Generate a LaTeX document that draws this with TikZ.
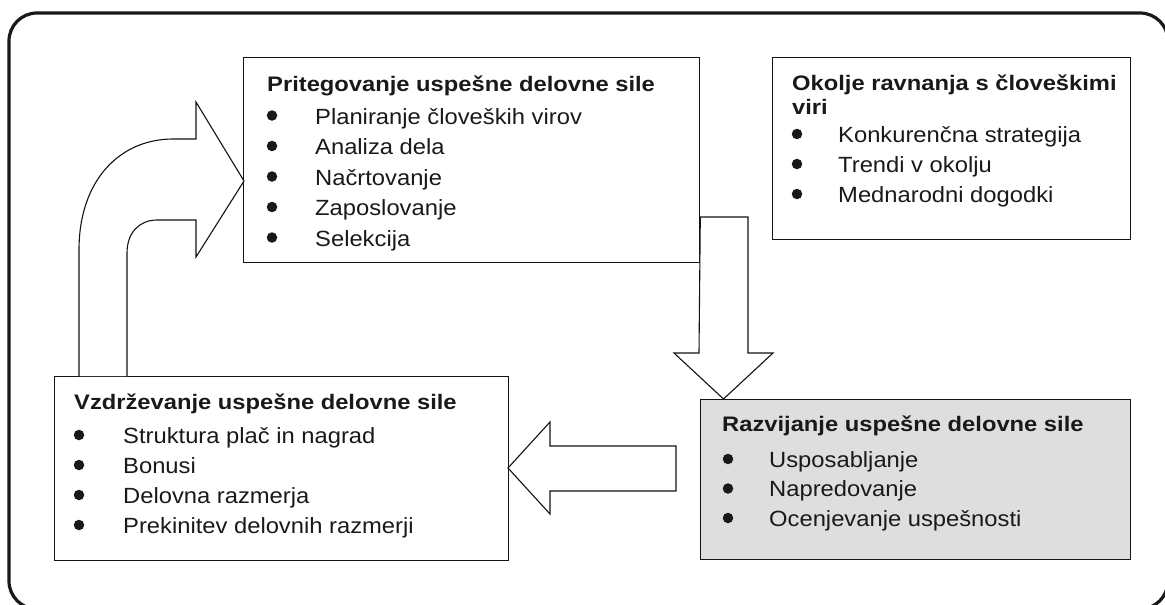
\documentclass[tikz,border=0pt]{standalone}
\usepackage{fontspec}
\usepackage{graphicx}
\setmainfont{Liberation Sans}
% slightly widened lettering for the box texts
\newcommand{\widetitle}[1]{\scalebox{1.13}[1]{\fontsize{21}{24}\selectfont\bfseries #1}}
\newcommand{\wideitem}[1]{\scalebox{1.08}[1]{\fontsize{22}{24}\selectfont #1}}
\begin{document}
\begin{tikzpicture}[x=1pt,y=-1pt,
  ink/.style={draw=black!85!gray},
  box/.style={ink, line width=1.3pt, rectangle, inner sep=0pt, anchor=north west},
  shaded/.style={box, fill=black!13},
  ttl/.style={anchor=base west, inner sep=0pt, text=black!90},
  itm/.style={anchor=base west, inner sep=0pt, text=black!90},
  dot/.style={circle, fill=black!90, inner sep=0pt, minimum size=10.5pt},
  blockarrow/.style={ink, line width=1.1pt, fill=white, line join=miter},
  frame/.style={draw=black!90, line width=3.2pt, rounded corners=28pt}]
\useasboundingbox (0,0) rectangle (1165,605);

% outer frame
\draw[frame] (9,13) rectangle (1168,609);

% boxes
\node[box, minimum width=456pt, minimum height=205pt] (prit) at (243,57) {};
\node[box, minimum width=358pt, minimum height=182pt] (okol) at (772,57) {};
\node[shaded, minimum width=430pt, minimum height=160pt] (razv) at (700,399) {};
\node[box, minimum width=454pt, minimum height=184pt] (vzd) at (54,376) {};

% acquiring the workforce
\node[ttl] (prit-t) at (267,91) {\widetitle{Pritegovanje uspešne delovne sile}};
\foreach \t [count=\i] in {Planiranje človeških virov, Analiza dela, Načrtovanje, Zaposlovanje, Selekcija}{
  \node[dot] (prit-d\i) at (272,{124+(\i-1)*30.5-8.5}) {};
  \node[itm] (prit-i\i) at (315,{124+(\i-1)*30.5}) {\wideitem{\t}};
}

% HR environment
\node[ttl] (okol-t1) at (792,90) {\widetitle{Okolje ravnanja s človeškimi}};
\node[ttl] (okol-t2) at (792,114) {\widetitle{viri}};
\foreach \t [count=\i] in {Konkurenčna strategija, Trendi v okolju, Mednarodni dogodki}{
  \node[dot] (okol-d\i) at (797,{142+(\i-1)*30-8}) {};
  \node[itm] (okol-i\i) at (838,{142+(\i-1)*30}) {\wideitem{\t}};
}

% developing the workforce
\node[ttl] (razv-t) at (722,431) {\widetitle{Razvijanje uspešne delovne sile}};
\foreach \t [count=\i] in {Usposabljanje, Napredovanje, Ocenjevanje uspešnosti}{
  \node[dot] (razv-d\i) at (728,{467+(\i-1)*29.5-8}) {};
  \node[itm] (razv-i\i) at (769,{467+(\i-1)*29.5}) {\wideitem{\t}};
}

% maintaining the workforce
\node[ttl] (vzd-t) at (74,409) {\widetitle{Vzdrževanje uspešne delovne sile}};
\foreach \t [count=\i] in {Struktura plač in nagrad, Bonusi, Delovna razmerja, Prekinitev delovnih razmerji}{
  \node[dot] (vzd-d\i) at (79,{443+(\i-1)*30-8}) {};
  \node[itm] (vzd-i\i) at (123,{443+(\i-1)*30}) {\wideitem{\t}};
}

% block arrows between the stages
\coordinate (downtip) at (723.5,399);
\coordinate (lefttip) at (508,468);
\coordinate (curvetip) at (244,181);

\draw[blockarrow] (prit.east |- 0,217) -- (748,217) -- (748,353) -- (773,353)
  -- (downtip) -- (674,353) -- (699,353) -- cycle;

\draw[blockarrow] (676,446) -- (550,446) -- (550,422) -- (lefttip)
  -- (550,514) -- (550,491) -- (676,491) -- cycle;

\draw[blockarrow] (79,376) -- (79,250) .. controls (79,180) and (120,139) .. (173,139)
  -- (196,139) -- (196,102) -- (curvetip) -- (196,257) -- (196,220) -- (157,220)
  .. controls (140,220) and (127,232) .. (127,253) -- (127,376);
\end{tikzpicture}
\end{document}
